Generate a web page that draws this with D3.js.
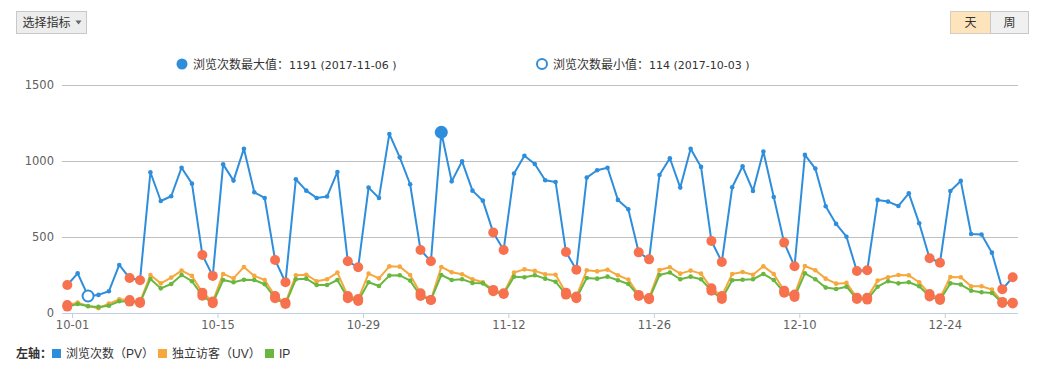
<!DOCTYPE html>
<html><head><meta charset="utf-8">
<script src="https://cdn.jsdelivr.net/npm/d3@7"></script>
<style>
body{margin:0;background:#fff;}
svg{display:block;font-family:"Liberation Sans",Arial,"Noto Sans CJK SC",sans-serif;}
.num{font-family:"DejaVu Sans",Verdana,sans-serif;}
</style></head><body>
<svg id="chart" width="1049" height="370"></svg>
<script>
// ---------- data ----------
const startDate = "2017-10-01";
const pvValues = [186,263,114,121,145,318,232,217,928,739,770,958,853,384,246,980,873,1083,796,759,
  351,204,882,807,759,768,930,342,303,827,759,1180,1026,849,417,342,1191,868,1000,807,
  741,531,417,919,1037,982,875,864,403,287,893,941,958,746,684,401,355,910,1020,827,
  1083,963,476,338,829,967,805,1064,765,465,309,1042,952,704,588,504,278,283,746,735,
  706,789,592,362,333,805,871,522,518,399,158,237];
const uvValues = [55,70,48,33,64,92,88,75,252,197,235,281,246,136,77,259,230,305,246,219,
  114,70,250,254,211,224,268,114,94,261,230,309,307,252,132,88,305,270,257,224,
  204,154,132,268,289,279,257,254,136,110,283,276,287,250,222,121,101,285,303,261,
  281,261,164,114,259,272,254,309,259,149,123,311,283,228,195,200,103,103,215,237,
  252,250,204,127,99,239,237,178,178,156,75,70];
const ipValues = [44,61,46,42,50,79,77,68,226,164,193,252,211,116,66,219,204,221,219,191,
  99,61,224,228,186,186,219,99,81,204,180,248,250,215,114,88,252,219,224,200,
  197,145,127,241,237,250,228,208,123,99,232,228,241,217,193,114,92,252,268,224,
  241,224,149,94,217,221,224,259,219,136,107,263,224,169,160,175,94,90,175,211,
  197,204,178,110,88,197,189,149,138,134,68,64];
const tickLabels = ["10-01","10-15","10-29","11-12","11-26","12-10","12-24"];
const yTicks = [0,500,1000,1500];
const seriesNames = ["浏览次数（PV）","独立访客（UV）","IP"];
const seriesColors = ["#2f8edc","#f6a83e","#6ab73f"];
const weekendColor = "#f7714e";
const maxLabel = "浏览次数最大值：";
const minLabel = "浏览次数最小值：";

// ---------- setup ----------
const svg = d3.select("#chart");
const parse = d3.timeParse("%Y-%m-%d");
const start = parse(startDate);
const dates = pvValues.map((_, i) => d3.timeDay.offset(start, i));
const fmtFull = d3.timeFormat("%Y-%m-%d");

const x = d3.scaleTime().domain([dates[0], dates[dates.length - 1]]).range([67.3, 1012.7]);
const y = d3.scaleLinear().domain([0, 1500]).range([313.3, 85.3]);
const plotLeft = 62, plotRight = 1018;

// gridlines
svg.append("g").selectAll("line").data(yTicks.filter(v => v > 0)).join("line")
  .attr("x1", plotLeft).attr("x2", plotRight)
  .attr("y1", d => Math.round(y(d)) + 0.5).attr("y2", d => Math.round(y(d)) + 0.5)
  .attr("stroke", "#c0c0c0").attr("stroke-width", 1);

// y labels
svg.append("g").selectAll("text").data(yTicks).join("text")
  .attr("class", "num")
  .attr("x", 54).attr("y", d => y(d) + 4)
  .attr("text-anchor", "end").attr("font-size", 11.5).attr("fill", "#606060")
  .text(d => d);

// x axis
const axisY = Math.round(y(0)) + 0.5;
svg.append("line").attr("x1", plotLeft).attr("x2", plotRight)
  .attr("y1", axisY).attr("y2", axisY).attr("stroke", "#c0d0e0");
const tickDates = tickLabels.map(t => d3.timeHour.offset(parse("2017-" + t), 11));
const xAxis = d3.axisBottom(x).tickValues(tickDates).tickSize(5).tickPadding(3)
  .tickFormat(d3.timeFormat("%m-%d"));
const gx = svg.append("g").attr("transform", `translate(0,${axisY - 0.5})`).call(xAxis);
gx.select(".domain").remove();
gx.selectAll(".tick line").attr("stroke", "#c0d0e0");
gx.selectAll(".tick text").attr("font-size", 11.5).attr("fill", "#606060")
  .attr("font-family", "DejaVu Sans, Verdana, sans-serif");

// series
const allSeries = [pvValues, uvValues, ipValues];
const line = d3.line().x((d, i) => x(dates[i])).y(d => y(d));
allSeries.forEach((vals, si) => {
  const g = svg.append("g");
  g.append("path").datum(vals).attr("d", line)
    .attr("fill", "none").attr("stroke", seriesColors[si]).attr("stroke-width", 2)
    .attr("stroke-linejoin", "round");
  g.selectAll("circle").data(vals).join("circle")
    .attr("cx", (d, i) => x(dates[i])).attr("cy", d => y(d)).attr("r", 2.3)
    .attr("fill", seriesColors[si]);
});

// weekend markers
allSeries.forEach(vals => {
  svg.append("g").selectAll("circle")
    .data(vals.map((v, i) => ({v, i})).filter(d => { const w = dates[d.i].getDay(); return w === 0 || w === 6; }))
    .join("circle")
    .attr("cx", d => x(dates[d.i])).attr("cy", d => y(d.v)).attr("r", 5)
    .attr("fill", weekendColor);
});

// max / min markers
const maxI = d3.maxIndex(pvValues), minI = d3.minIndex(pvValues);
svg.append("circle").attr("cx", x(dates[maxI])).attr("cy", y(pvValues[maxI])).attr("r", 6.5)
  .attr("fill", seriesColors[0]);
svg.append("circle").attr("cx", x(dates[minI])).attr("cy", y(pvValues[minI])).attr("r", 5.5)
  .attr("fill", "#fff").attr("stroke", seriesColors[0]).attr("stroke-width", 2);

// top legend
const topLeg = svg.append("g").attr("font-size", 12).attr("fill", "#333");
function legendText(xp, label, val, dt) {
  const t = topLeg.append("text").attr("x", xp).attr("y", 68.5);
  t.append("tspan").text(label);
  t.append("tspan").attr("class", "num").attr("font-size", 11).text(`${val} (${fmtFull(dt)} )`);
}
topLeg.append("circle").attr("cx", 182).attr("cy", 64).attr("r", 5.5).attr("fill", seriesColors[0]);
legendText(193, maxLabel, pvValues[maxI], dates[maxI]);
topLeg.append("circle").attr("cx", 542).attr("cy", 64).attr("r", 5).attr("fill", "#fff")
  .attr("stroke", seriesColors[0]).attr("stroke-width", 2);
legendText(553, minLabel, pvValues[minI], dates[minI]);

// select button
const btn = svg.append("g");
btn.append("rect").attr("x", 16.5).attr("y", 11.5).attr("width", 70).attr("height", 22)
  .attr("fill", "#ededed").attr("stroke", "#c8c8c8");
btn.append("text").attr("x", 22.5).attr("y", 27).attr("font-size", 12).attr("fill", "#333").text("选择指标");
btn.append("path").attr("d", "M75.5,20.5 L81.5,20.5 L78.5,24.5 Z").attr("fill", "#666");

// day/week toggle
const tg = svg.append("g");
tg.append("rect").attr("x", 950.5).attr("y", 11.5).attr("width", 40).attr("height", 22)
  .attr("fill", "#fde4bd").attr("stroke", "#d6cdbd");
tg.append("rect").attr("x", 990.5).attr("y", 11.5).attr("width", 38).attr("height", 22)
  .attr("fill", "#f0f0f0").attr("stroke", "#c8c8c8");
tg.append("text").attr("x", 970.5).attr("y", 27).attr("text-anchor", "middle")
  .attr("font-size", 12).attr("fill", "#333").text("天");
tg.append("text").attr("x", 1009.5).attr("y", 27).attr("text-anchor", "middle")
  .attr("font-size", 12).attr("fill", "#333").text("周");

// bottom legend
const bl = svg.append("g").attr("font-size", 12);
bl.append("text").attr("x", 16).attr("y", 358).attr("font-weight", "bold").attr("fill", "#333").text("左轴：");
const legX = [52, 158, 265];
seriesNames.forEach((n, i) => {
  bl.append("rect").attr("x", legX[i]).attr("y", 349).attr("width", 9).attr("height", 9)
    .attr("fill", seriesColors[i]);
  bl.append("text").attr("x", legX[i] + 14).attr("y", 358).attr("fill", "#333").text(n);
});
</script>
</body></html>
